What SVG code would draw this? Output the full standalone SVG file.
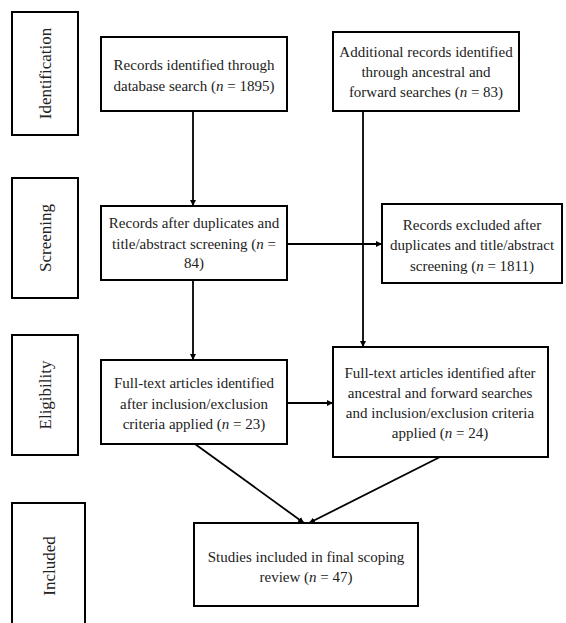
<svg xmlns="http://www.w3.org/2000/svg" width="566" height="623" viewBox="0 0 566 623">
<style>
.box{fill:#fff;stroke:#000;stroke-width:2}
.t{font-family:"Liberation Serif","Times New Roman",serif;font-size:15px;fill:#222;text-anchor:middle}
.lab{font-family:"Liberation Serif","Times New Roman",serif;font-size:17px;fill:#222;text-anchor:middle}
.i{font-style:italic}
.c{stroke:#000;stroke-width:1.8;fill:none}
</style>
<defs>
<marker id="ah" viewBox="0 0 10 10" refX="10" refY="5" markerWidth="6" markerHeight="6" markerUnits="userSpaceOnUse" orient="auto">
<path d="M0,0 L10,5 L0,10 z" fill="#000"/>
</marker>
</defs>
<rect width="566" height="623" fill="#fff"/>
<g id="stage-identification"><rect class="box" x="12" y="12" width="66" height="123"/><text class="lab" transform="translate(51,73.5) rotate(-90)">Identification</text></g>
<g id="stage-screening"><rect class="box" x="12" y="178" width="66" height="120"/><text class="lab" transform="translate(51,238) rotate(-90)">Screening</text></g>
<g id="stage-eligibility"><rect class="box" x="12" y="335" width="66" height="120"/><text class="lab" transform="translate(51,395) rotate(-90)">Eligibility</text></g>
<g id="stage-included"><rect class="box" x="12" y="503" width="73" height="130"/><text class="lab" transform="translate(55,566) rotate(-90)">Included</text></g>

<g id="connectors">
<line class="c" x1="193" y1="111" x2="193" y2="206" marker-end="url(#ah)"/>
<line class="c" x1="363" y1="111" x2="363" y2="347" marker-end="url(#ah)"/>
<line class="c" x1="287" y1="244" x2="382" y2="244" marker-end="url(#ah)"/>
<line class="c" x1="193" y1="280" x2="193" y2="360" marker-end="url(#ah)"/>
<line class="c" x1="287" y1="403" x2="333" y2="403" marker-end="url(#ah)"/>
<line class="c" x1="195" y1="444" x2="304" y2="523" marker-end="url(#ah)"/>
<line class="c" x1="440" y1="457" x2="309" y2="523" marker-end="url(#ah)"/>
</g>

<g id="n-database"><rect class="box" x="101" y="37" width="186" height="74"/>
<text class="t" x="194" y="70">Records identified through</text>
<text class="t" x="194" y="91">database search (<tspan class="i">n</tspan> = 1895)</text></g>

<g id="n-additional"><rect class="box" x="333" y="32" width="186" height="79"/>
<text class="t" x="426" y="57">Additional records identified</text>
<text class="t" x="426" y="77">through ancestral and</text>
<text class="t" x="426" y="97">forward searches (<tspan class="i">n</tspan> = 83)</text></g>

<g id="n-screened"><rect class="box" x="101" y="206" width="186" height="74"/>
<text class="t" x="194" y="228">Records after duplicates and</text>
<text class="t" x="194" y="249">title/abstract screening (<tspan class="i">n</tspan> =</text>
<text class="t" x="194" y="268">84)</text></g>

<g id="n-excluded"><rect class="box" x="382" y="204" width="180" height="79"/>
<text class="t" x="472" y="230">Records excluded after</text>
<text class="t" x="472" y="250">duplicates and title/abstract</text>
<text class="t" x="472" y="271">screening (<tspan class="i">n</tspan> = 1811)</text></g>

<g id="n-fulltext-left"><rect class="box" x="101" y="360" width="186" height="84"/>
<text class="t" x="194" y="388">Full-text articles identified</text>
<text class="t" x="194" y="409">after inclusion/exclusion</text>
<text class="t" x="194" y="429">criteria applied (<tspan class="i">n</tspan> = 23)</text></g>

<g id="n-fulltext-right"><rect class="box" x="333" y="347" width="215" height="110"/>
<text class="t" x="440" y="378">Full-text articles identified after</text>
<text class="t" x="440" y="398">ancestral and forward searches</text>
<text class="t" x="440" y="418">and inclusion/exclusion criteria</text>
<text class="t" x="440" y="438">applied (<tspan class="i">n</tspan> = 24)</text></g>

<g id="n-included"><rect class="box" x="194" y="523" width="224" height="83"/>
<text class="t" x="306" y="562">Studies included in final scoping</text>
<text class="t" x="306" y="582">review (<tspan class="i">n</tspan> = 47)</text></g>
</svg>
